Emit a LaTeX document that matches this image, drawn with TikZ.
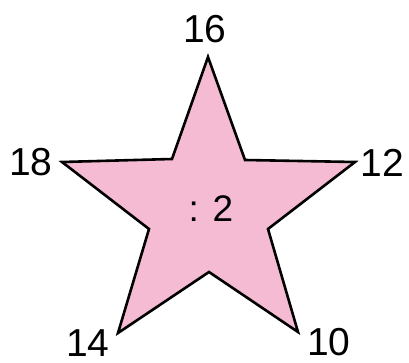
\documentclass[tikz,border=0pt]{standalone}
\usepackage{fontspec}
\setmainfont{Liberation Sans}
\definecolor{starpink}{HTML}{F4BBD2}
\tikzset{
  lbl/.style={inner sep=0pt, font=\fontsize{39}{41}\selectfont},
  midlbl/.style={inner sep=0pt, font=\fontsize{37}{39}\selectfont},
  starline/.style={draw=black, line width=2.6pt, fill=starpink, line join=miter}
}
\begin{document}
\begin{tikzpicture}[x=1pt,y=-1pt]
\useasboundingbox (0,0) rectangle (409,363);
\coordinate (p1) at (208,57);
\coordinate (i1) at (245,160);
\coordinate (p2) at (355,162);
\coordinate (i2) at (268,229);
\coordinate (p3) at (298,332);
\coordinate (i3) at (209,272);
\coordinate (p4) at (118,333);
\coordinate (i4) at (149,229);
\coordinate (p5) at (62,162);
\coordinate (i5) at (172,159);
\path[starline] (p1) -- (i1) -- (p2) -- (i2) -- (p3) -- (i3) -- (p4) -- (i4) -- (p5) -- (i5) -- cycle;
\node[lbl] (t16) at (205,29) {16};
\node[lbl] (t12) at (382,163) {12};
\node[lbl] (t10) at (329,342) {10};
\node[lbl] (t14) at (88,343) {14};
\node[lbl] (t18) at (31,162) {18};
\node[midlbl] (mid) at (211,209) {: 2};
\end{tikzpicture}
\end{document}
